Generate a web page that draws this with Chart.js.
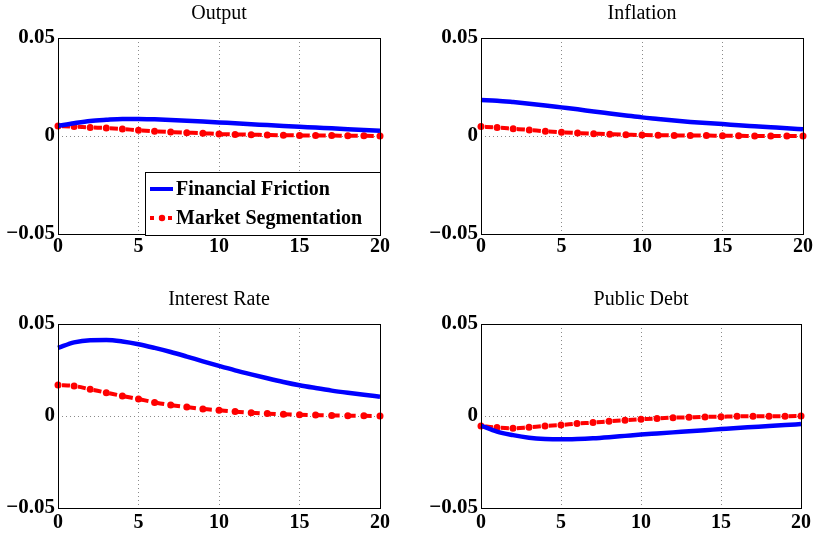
<!DOCTYPE html>
<html>
<head>
<meta charset="utf-8">
<script src="https://cdn.jsdelivr.net/npm/chart.js@4/dist/chart.umd.min.js"></script>
<style>
  body { margin: 0; background: #fff; }
  #wrap { position: relative; width: 814px; height: 540px; }
  canvas { position: absolute; }
</style>
</head>
<body>
<div id="wrap">
  <canvas id="c1" width="407" height="270" style="left:0;top:0"></canvas>
  <canvas id="c2" width="407" height="270" style="left:407px;top:0"></canvas>
  <canvas id="c3" width="407" height="270" style="left:0;top:270px"></canvas>
  <canvas id="c4" width="407" height="270" style="left:407px;top:270px"></canvas>
</div>
<script>
// horizons and tick labels
const steps = [0,1,2,3,4,5,6,7,8,9,10,11,12,13,14,15,16,17,18,19,20];
const xTicks = [0, 5, 10, 15, 20];
const yTicks = [-0.05, 0, 0.05];
const yTickLabels = ["\u22120.05", "0", "0.05"];
const seriesNames = ["Financial Friction", "Market Segmentation"];

// impulse responses
const outputFF = [0.0051,0.0065,0.0077,0.0083,0.0087,0.0087,0.0085,0.0082,0.0078,0.0074,0.0069,0.0065,0.0060,0.0056,0.0051,0.0047,0.0043,0.0039,0.0035,0.0031,0.0027];
const outputMS = [0.0051,0.0048,0.0044,0.0041,0.0036,0.0029,0.0024,0.0020,0.0017,0.0014,0.0010,0.0008,0.0007,0.0005,0.0004,0.0003,0.0002,0.0002,0.0001,0.0001,0.0000];
const inflationFF = [0.0184,0.0180,0.0173,0.0165,0.0156,0.0146,0.0136,0.0125,0.0115,0.0105,0.0095,0.0087,0.0079,0.0072,0.0066,0.0061,0.0055,0.0050,0.0045,0.0040,0.0034];
const inflationMS = [0.0048,0.0043,0.0037,0.0031,0.0024,0.0019,0.0015,0.0012,0.0009,0.0007,0.0005,0.0004,0.0003,0.0002,0.0002,0.0001,0.0001,0.0000,0.0000,0.0000,0.0000];
const interestFF = [0.0370,0.0400,0.0412,0.0413,0.0405,0.0390,0.0370,0.0348,0.0323,0.0297,0.0272,0.0248,0.0226,0.0205,0.0185,0.0167,0.0152,0.0138,0.0126,0.0115,0.0105];
const interestMS = [0.0168,0.0163,0.0145,0.0127,0.0109,0.0092,0.0074,0.0060,0.0049,0.0038,0.0031,0.0024,0.0018,0.0013,0.0009,0.0007,0.0005,0.0003,0.0002,0.0001,0.0000];
const debtFF = [-0.0052,-0.0085,-0.0104,-0.0118,-0.0125,-0.0127,-0.0125,-0.0121,-0.0115,-0.0108,-0.0101,-0.0095,-0.0089,-0.0083,-0.0077,-0.0071,-0.0065,-0.0060,-0.0055,-0.0049,-0.0044];
const debtMS = [-0.0054,-0.0063,-0.0067,-0.0061,-0.0054,-0.0049,-0.0041,-0.0036,-0.0029,-0.0023,-0.0018,-0.0013,-0.0009,-0.0007,-0.0005,-0.0004,-0.0002,-0.0002,-0.0001,-0.0001,0.0000];

const BLUE = "#0000ff", RED = "#ff0000";
const SERIF = '"Liberation Serif", "Times New Roman", serif';

function pts(ys) { return steps.map((x, i) => ({ x: x, y: ys[i] })); }

// box, title and (optionally) the legend, drawn matlab style
const panelDeco = {
  id: "panelDeco",
  afterDatasetsDraw(chart, args, opts) {
    const ctx = chart.ctx, a = chart.chartArea;
    ctx.save();
    ctx.strokeStyle = "#000";
    ctx.lineWidth = 1;
    ctx.strokeRect(Math.round(a.left) + 0.5, Math.round(a.top) + 0.5,
                   Math.round(a.right - a.left), Math.round(a.bottom - a.top));
    ctx.fillStyle = "#000";
    ctx.font = "20px " + SERIF;
    ctx.textAlign = "center";
    ctx.textBaseline = "alphabetic";
    ctx.fillText(opts.title, (a.left + a.right) / 2, a.top - 19);

    if (opts.legend) {
      const L = a.right - 235, T = a.bottom - 62;
      ctx.fillStyle = "#fff";
      ctx.fillRect(L, T, 235, 63);
      ctx.strokeRect(L + 0.5, T + 0.5, 235, 63);
      // blue sample
      ctx.strokeStyle = BLUE;
      ctx.lineWidth = 4;
      ctx.beginPath(); ctx.moveTo(L + 5, T + 17); ctx.lineTo(L + 28, T + 17); ctx.stroke();
      // red sample
      ctx.strokeStyle = RED;
      ctx.setLineDash([4, 5]);
      ctx.beginPath(); ctx.moveTo(L + 5, T + 46); ctx.lineTo(L + 28, T + 46); ctx.stroke();
      ctx.setLineDash([]);
      ctx.fillStyle = RED;
      ctx.beginPath(); ctx.arc(L + 17, T + 46, 3.2, 0, Math.PI * 2); ctx.fill();
      ctx.fillStyle = "#000";
      ctx.font = "bold 20px " + SERIF;
      ctx.textAlign = "left";
      ctx.textBaseline = "middle";
      ctx.fillText(seriesNames[0], L + 31, T + 18);
      ctx.fillText(seriesNames[1], L + 31, T + 47);
    }
    ctx.restore();
  }
};

function makePanel(id, title, ff, ms, lay) {
  new Chart(document.getElementById(id), {
    type: "line",
    data: {
      datasets: [{
        label: seriesNames[0],
        data: pts(ff),
        borderColor: BLUE,
        borderWidth: 4.5,
        pointRadius: 0,
        cubicInterpolationMode: "monotone",
        clip: false
      }, {
        label: seriesNames[1],
        data: pts(ms),
        borderColor: RED,
        backgroundColor: RED,
        borderWidth: 4,
        borderDash: [8, 8],
        borderDashOffset: 12,
        pointRadius: 3.5,
        pointBorderWidth: 0,
        pointBackgroundColor: RED,
        cubicInterpolationMode: "monotone",
        clip: false
      }]
    },
    options: {
      responsive: false,
      animation: false,
      events: [],
      layout: { padding: { left: 0, top: lay.top, right: lay.right, bottom: 0 } },
      plugins: {
        legend: { display: false },
        tooltip: { enabled: false },
        panelDeco: { title: title, legend: !!lay.legend }
      },
      scales: {
        x: {
          type: "linear",
          min: 0, max: 20,
          afterBuildTicks: s => { s.ticks = xTicks.map(v => ({ value: v })); },
          afterFit: s => { s.height = lay.xh; },
          ticks: {
            color: "#000",
            padding: lay.xpad,
            maxRotation: 0,
            font: { family: SERIF, size: 20, weight: "bold" }
          },
          grid: {
            drawTicks: false,
            lineWidth: 1,
            color: c => (c.tick && c.tick.value > 0 && c.tick.value < 20) ? "#8a8a8a" : "rgba(0,0,0,0)"
          },
          border: { display: false, dash: [1, 3] }
        },
        y: {
          min: -0.05, max: 0.05,
          afterBuildTicks: s => { s.ticks = yTicks.map(v => ({ value: v })); },
          afterFit: s => { s.width = lay.yw; },
          ticks: {
            color: "#000",
            padding: 3,
            font: { family: SERIF, size: 21, weight: "bold" },
            callback: (v) => {
              const i = yTicks.findIndex(t => Math.abs(t - v) < 1e-9);
              return i >= 0 ? yTickLabels[i] : "";
            }
          },
          grid: {
            drawTicks: false,
            lineWidth: 1,
            color: c => (c.tick && Math.abs(c.tick.value) < 1e-9) ? "#8a8a8a" : "rgba(0,0,0,0)"
          },
          border: { display: false, dash: [1, 3] }
        }
      }
    },
    plugins: [panelDeco]
  });
}

makePanel("c1", "Output", outputFF, outputMS, { top: 38, right: 27, yw: 58, xh: 36, xpad: 1, legend: true });
makePanel("c2", "Inflation", inflationFF, inflationMS, { top: 38, right: 11, yw: 74, xh: 36, xpad: 1 });
makePanel("c3", "Interest Rate", interestFF, interestMS, { top: 54, right: 27, yw: 58, xh: 32, xpad: 3 });
makePanel("c4", "Public Debt", debtFF, debtMS, { top: 54, right: 11, yw: 74, xh: 32, xpad: 3 });
</script>
</body>
</html>
